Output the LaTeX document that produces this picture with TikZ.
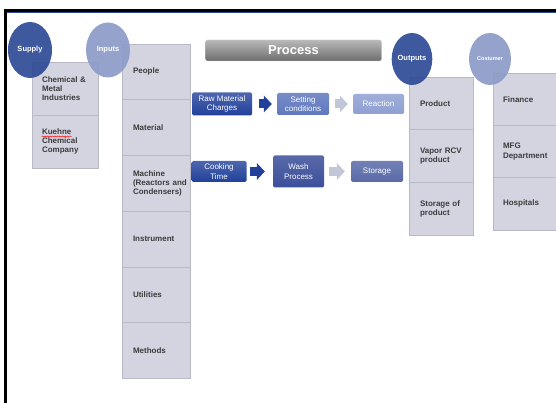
\documentclass[tikz,border=0pt]{standalone}
\usepackage{fontspec}
\setmainfont{Liberation Sans}
\usetikzlibrary{arrows.meta,calc,shapes.geometric,decorations.pathmorphing}
\definecolor{darkblue}{HTML}{2E4B96}
\definecolor{lightblue}{HTML}{8C9BC8}
\definecolor{cellgray}{HTML}{D3D4E0}
\definecolor{celledge}{HTML}{B9BAC8}
\definecolor{celltext}{HTML}{3C3C3C}
\definecolor{rawblue}{HTML}{21409A}
\definecolor{setblue}{HTML}{5F78BE}
\definecolor{reacblue}{HTML}{8FA0D2}
\definecolor{washblue}{HTML}{3B4F9A}
\definecolor{storblue}{HTML}{5A6AA8}
\definecolor{arrowgray}{HTML}{C3C6D6}

\tikzset{
  cell/.style={draw=celledge, fill=cellgray, line width=0.6pt, inner xsep=10pt,
    align=left, text=celltext, font=\fontsize{8}{9.3}\selectfont\bfseries},
  blob/.style={ellipse, inner sep=0pt, fill opacity=0.92, text opacity=1,
    text=white, font=\fontsize{7.5}{8}\selectfont\bfseries},
  stepbox/.style={rounded corners=1.5pt, text=white, align=center, inner sep=1pt,
    font=\fontsize{8}{9.5}\selectfont},
  flow/.style={line width=9pt, -{Triangle[length=8pt,width=17pt,line width=0pt]}}
}

\begin{document}
\begin{tikzpicture}[x=1pt,y=-1pt]
  \useasboundingbox (0,0) rectangle (556,403);
  % Rahmen
  \draw[line width=3pt] (5.7,403) -- (5.7,10.7) -- (556,10.7);
  \draw[line width=0.7pt, darkblue] (7.2,12.8) -- (556,12.8);

  % Supply
  \node[cell, text width=46pt, minimum height=53pt] (sup1) at (65,88.5) {Chemical \&\\Metal\\Industries};
  \node[cell, text width=46pt, minimum height=53pt] (sup2) at (65,141.5) {Kuehne\\Chemical\\Company};
  \draw[red, line width=0.5pt, decorate, decoration={snake,amplitude=0.6pt,segment length=2.5pt}]
    ($(sup2.west)+(10,-5)$) -- ++(30,0);

  % Inputs
  \foreach \txt [count=\i] in {People, Material, {Machine\\(Reactors~and\\Condensers)},
                               Instrument, Utilities, Methods} {
    \node[cell, inner xsep=11pt, text width=46pt, minimum height=55.7pt]
      (in\i) at (156,{71.85+(\i-1)*55.7}) {\txt};
  }

  % Outputs
  \foreach \txt [count=\i] in {Product, {Vapor~RCV\\product}, {Storage of\\product}} {
    \node[cell, inner xsep=11pt, text width=42pt, minimum height=52.7pt]
      (out\i) at (441,{103.3+(\i-1)*52.7}) {\txt};
  }

  % Costumer
  \foreach \txt [count=\i] in {Finance, {MFG\\Department}, Hospitals} {
    \node[cell, text width=46pt, minimum height=52.3pt]
      (cus\i) at (526,{99.2+(\i-1)*52.3}) {\txt};
  }

  % Process
  \node[rounded corners=2pt, draw=gray!40, top color=gray!55, bottom color=gray!85!black,
        minimum width=176pt, minimum height=21pt, text=white,
        font=\fontsize{13}{13}\selectfont\bfseries] (proc) at (293.5,50.5) {Process};

  \node[stepbox, top color=rawblue!80, bottom color=rawblue, minimum width=60pt, minimum height=23pt]
    (raw) at (222,104) {Raw Material\\Charges};
  \node[stepbox, top color=setblue!85, bottom color=setblue, minimum width=52pt, minimum height=22pt]
    (set) at (303,104) {Setting\\conditions};
  \node[stepbox, top color=reacblue!85, bottom color=reacblue, minimum width=51pt, minimum height=20pt]
    (reac) at (378.5,104) {Reaction};
  \node[stepbox, top color=rawblue!80, bottom color=rawblue, minimum width=55pt, minimum height=21pt]
    (cook) at (219,171.5) {Cooking\\Time};
  \node[stepbox, top color=washblue!85, bottom color=washblue, minimum width=51pt, minimum height=32pt]
    (wash) at (298.5,171.5) {Wash\\Process};
  \node[stepbox, top color=storblue!85, bottom color=storblue, minimum width=52pt, minimum height=21pt]
    (stor) at (377,171.5) {Storage};

  \draw[flow, rawblue, shorten <=7pt, shorten >=5pt] (raw) -- (set);
  \draw[flow, arrowgray, shorten <=6pt, shorten >=5pt] (set) -- (reac);
  \draw[flow, rawblue, shorten <=3.5pt, shorten >=8pt] (cook) -- (wash);
  \draw[flow, arrowgray, shorten <=5pt, shorten >=6pt] (wash) -- (stor);

  % Kreise
  \node[blob, fill=darkblue, minimum width=44pt, minimum height=56pt] (supply) at (30,50) {Supply};
  \node[blob, fill=lightblue, minimum width=44pt, minimum height=55pt] (inputs) at (108,50) {Inputs};
  \node[blob, fill=darkblue, minimum width=40pt, minimum height=52pt] (outputs) at (412,59) {Outputs};
  \node[blob, fill=lightblue, minimum width=42pt, minimum height=52pt,
        font=\fontsize{5.5}{6}\selectfont\bfseries] (costumer) at (490,59) {Costumer};
\end{tikzpicture}
\end{document}
